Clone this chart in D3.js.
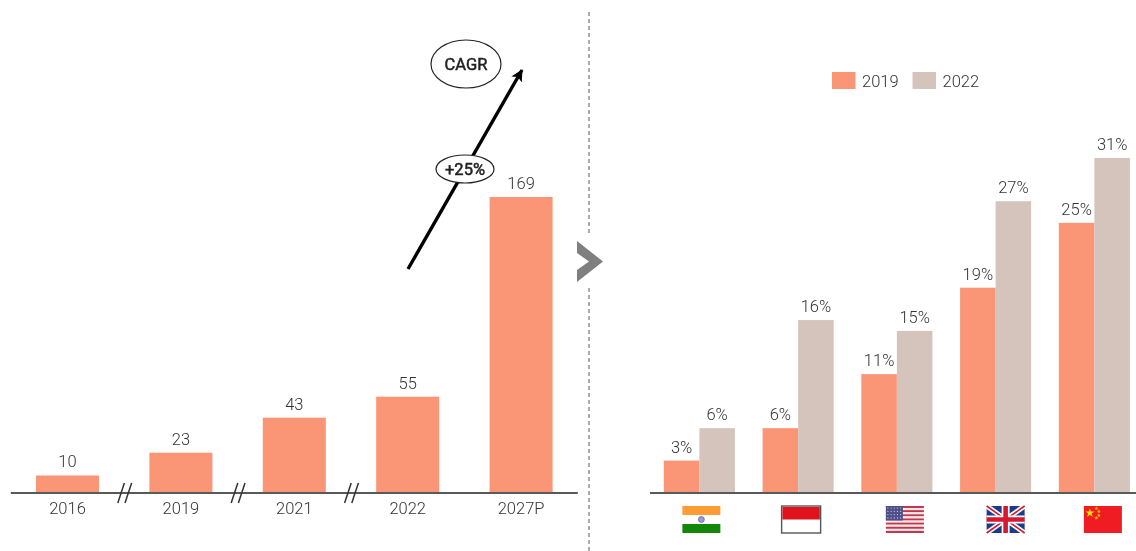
<!DOCTYPE html>
<html>
<head>
<meta charset="utf-8">
<script src="https://cdn.jsdelivr.net/npm/d3@7"></script>
<style>
html, body { margin: 0; background: #fff; }
svg { display: block; font-family: Roboto, sans-serif; will-change: transform; }
.axis path { stroke: #595959; stroke-width: 2; }
.axis text { font-size: 16.5px; font-weight: 300; fill: #333; font-family: Roboto, sans-serif; }
.val { font-size: 16.5px; font-weight: 300; fill: #333; text-anchor: middle; }
</style>
</head>
<body>
<svg width="1136" height="551"></svg>
<script>
var years = ["2016", "2019", "2021", "2022", "2027P"];
var yearValues = [10, 23, 43, 55, 169];
var breakAfter = ["2016", "2019", "2021"];

var countries = ["India", "Indonesia", "USA", "UK", "China"];
var keys = ["2019", "2022"];
var share2019 = [3, 6, 11, 19, 25];
var share2022 = [6, 16, 15, 27, 31];
var cagrLabel = "CAGR";
var cagrValue = "+25%";

var ORANGE = "#fa9675", TAUPE = "#d4c4bc";
var baseY = 493;

var svg = d3.select("svg");

// left chart
var xL = d3.scaleBand().domain(years).range([10.8, 577.8]).paddingInner(0.444).paddingOuter(0.222);
var yL = d3.scaleLinear().domain([0, 169]).range([baseY, 197]);

var left = svg.append("g");
left.selectAll("rect").data(yearValues).enter().append("rect")
  .attr("x", function (d, i) { return xL(years[i]); })
  .attr("y", function (d) { return yL(d); })
  .attr("width", xL.bandwidth())
  .attr("height", function (d) { return baseY - yL(d); })
  .attr("fill", ORANGE);
left.selectAll("text.val").data(yearValues).enter().append("text")
  .attr("class", "val")
  .attr("x", function (d, i) { return xL(years[i]) + xL.bandwidth() / 2; })
  .attr("y", function (d) { return yL(d) - 8; })
  .text(function (d) { return d; });

var axisL = left.append("g").attr("class", "axis")
  .attr("transform", "translate(0," + baseY + ")")
  .call(d3.axisBottom(xL).tickSize(0).tickPadding(9).tickSizeOuter(0));
axisL.select("path").attr("d", "M10.8,0H577.8");

// axis break marks
breakAfter.forEach(function (y) {
  var cx = xL(y) + xL.bandwidth() + xL.step() * 0.444 / 2 + 0.5;
  [-3.6, 3.6].forEach(function (dx) {
    left.append("line")
      .attr("x1", cx + dx - 3.3).attr("y1", baseY + 10)
      .attr("x2", cx + dx + 3.3).attr("y2", baseY - 10)
      .attr("stroke", "#333").attr("stroke-width", 1.5);
  });
});

// cagr arrow
svg.append("defs").append("marker")
  .attr("id", "head").attr("markerUnits", "userSpaceOnUse")
  .attr("viewBox", "0 0 12 12").attr("refX", 11).attr("refY", 6)
  .attr("markerWidth", 12).attr("markerHeight", 12).attr("orient", "auto")
  .append("path").attr("d", "M0,0L12,6L0,12L3,6Z").attr("fill", "#000");
svg.append("line")
  .attr("x1", 408).attr("y1", 269).attr("x2", 522).attr("y2", 70)
  .attr("stroke", "#000").attr("stroke-width", 3.4)
  .attr("marker-end", "url(#head)");

function bubble(cx, cy, rx, ry, label, size) {
  svg.append("ellipse").attr("cx", cx).attr("cy", cy).attr("rx", rx).attr("ry", ry)
    .attr("fill", "#fff").attr("stroke", "#222").attr("stroke-width", 1.2);
  svg.append("text").attr("x", cx).attr("y", cy + 5.5).attr("text-anchor", "middle")
    .attr("font-size", size).attr("font-weight", 400)
    .attr("stroke", "#222").attr("stroke-width", 0.5).attr("fill", "#222").text(label);
}
bubble(466, 64, 35, 24, cagrLabel, 16.5);
bubble(465, 169, 29, 14, cagrValue, 16.5);

// divider and chevron
svg.append("line").attr("x1", 589).attr("x2", 589).attr("y1", 12).attr("y2", 236)
  .attr("stroke", "#595959").attr("stroke-width", 1).attr("stroke-dasharray", "4,3");
svg.append("line").attr("x1", 589).attr("x2", 589).attr("y1", 288).attr("y2", 551)
  .attr("stroke", "#595959").attr("stroke-width", 1).attr("stroke-dasharray", "4,3");
svg.append("path").attr("d", "M577,241L603,261.5L577,282V270L589,261.5L577,253Z").attr("fill", "#7f7f7f");

// right chart
var x0 = d3.scaleBand().domain(countries).range([650, 1143.75]).paddingInner(0.28).paddingOuter(0.14);
var x1 = d3.scaleBand().domain(keys).range([0, x0.bandwidth()]);
var yR = d3.scaleLinear().domain([0, 31]).range([baseY, 158]);
var colour = d3.scaleOrdinal().domain(keys).range([ORANGE, TAUPE]);

var groups = svg.append("g").selectAll("g").data(countries).enter().append("g")
  .attr("transform", function (d) { return "translate(" + x0(d) + ",0)"; });

var cells = groups.selectAll("g").data(function (d, i) {
  return [{ key: "2019", value: share2019[i] }, { key: "2022", value: share2022[i] }];
}).enter().append("g");
cells.append("rect")
  .attr("x", function (d) { return x1(d.key); })
  .attr("y", function (d) { return yR(d.value); })
  .attr("width", x1.bandwidth())
  .attr("height", function (d) { return baseY - yR(d.value); })
  .attr("fill", function (d) { return colour(d.key); });
cells.append("text").attr("class", "val")
  .attr("x", function (d) { return x1(d.key) + x1.bandwidth() / 2; })
  .attr("y", function (d) { return yR(d.value) - 8; })
  .text(function (d) { return d.value + "%"; });

svg.append("line").attr("x1", 650).attr("x2", 1136).attr("y1", baseY).attr("y2", baseY)
  .attr("stroke", "#595959").attr("stroke-width", 2);

// legend
var legend = svg.append("g").selectAll("g").data(keys).enter().append("g")
  .attr("transform", function (d, i) { return "translate(" + (832 + i * 80.5) + ",72)"; });
legend.append("rect").attr("width", 23.5).attr("height", 17).attr("fill", function (d) { return colour(d); });
legend.append("text").attr("x", 30).attr("y", 14.5).attr("font-size", 16.5).attr("font-weight", 300).attr("fill", "#333")
  .text(function (d) { return d; });

// flags, 38x27, shifted a little from the group centres as in the picture
function flag(name, dx) {
  return svg.append("g").attr("transform", "translate(" + (x0(name) + x0.bandwidth() / 2 + dx - 19) + ",506)");
}

var fIn = flag("India", 2);
fIn.append("rect").attr("width", 38).attr("height", 27).attr("fill", "#fff");
fIn.append("rect").attr("width", 38).attr("height", 9).attr("fill", "#ff9c33");
fIn.append("rect").attr("y", 18).attr("width", 38).attr("height", 9).attr("fill", "#138808");
fIn.append("circle").attr("cx", 19).attr("cy", 13.5).attr("r", 3).attr("fill", "#9a9ad0").attr("stroke", "#4a4aa8").attr("stroke-width", 0.6);

var fId = flag("Indonesia", 3);
fId.append("rect").attr("x", -0.5).attr("width", 39).attr("height", 27).attr("fill", "#fff").attr("stroke", "#555").attr("stroke-width", 1.4);
fId.append("rect").attr("x", 0.3).attr("y", 1).attr("width", 37.4).attr("height", 12.5).attr("fill", "#e0121b");

var fUs = flag("USA", 8);
d3.range(13).forEach(function (i) {
  fUs.append("rect").attr("y", i * 27 / 13).attr("width", 38).attr("height", 27 / 13)
    .attr("fill", i % 2 ? "#f5e6e8" : "#c0374e");
});
fUs.append("rect").attr("width", 17).attr("height", 14.5).attr("fill", "#4d4f86");
d3.range(4).forEach(function (r) {
  d3.range(5).forEach(function (c) {
    fUs.append("circle").attr("cx", 2 + c * 3.2).attr("cy", 2 + r * 3.3).attr("r", 0.6).attr("fill", "#d5d6e6");
  });
});

var fUk = flag("UK", 10);
fUk.append("rect").attr("width", 38).attr("height", 27).attr("fill", "#1a3a8a");
fUk.append("path").attr("d", "M0,0L38,27M38,0L0,27").attr("stroke", "#fff").attr("stroke-width", 5);
fUk.append("path").attr("d", "M0,0L38,27M38,0L0,27").attr("stroke", "#d5182f").attr("stroke-width", 1.6);
fUk.append("path").attr("d", "M19,0V27M0,13.5H38").attr("stroke", "#fff").attr("stroke-width", 8);
fUk.append("path").attr("d", "M19,0V27M0,13.5H38").attr("stroke", "#d5182f").attr("stroke-width", 4.6);

var fCn = flag("China", 8.5);
fCn.append("rect").attr("width", 38).attr("height", 27).attr("fill", "#f01c24");
fCn.append("path").attr("d", d3.symbol().type(d3.symbolStar).size(26)).attr("transform", "translate(6,7)").attr("fill", "#ffe000");
[[12.5, 2.5], [15, 5.5], [15, 9.5], [12.5, 12]].forEach(function (p) {
  fCn.append("path").attr("d", d3.symbol().type(d3.symbolStar).size(5)).attr("transform", "translate(" + p[0] + "," + p[1] + ")").attr("fill", "#ffc400");
});
</script>
</body>
</html>
